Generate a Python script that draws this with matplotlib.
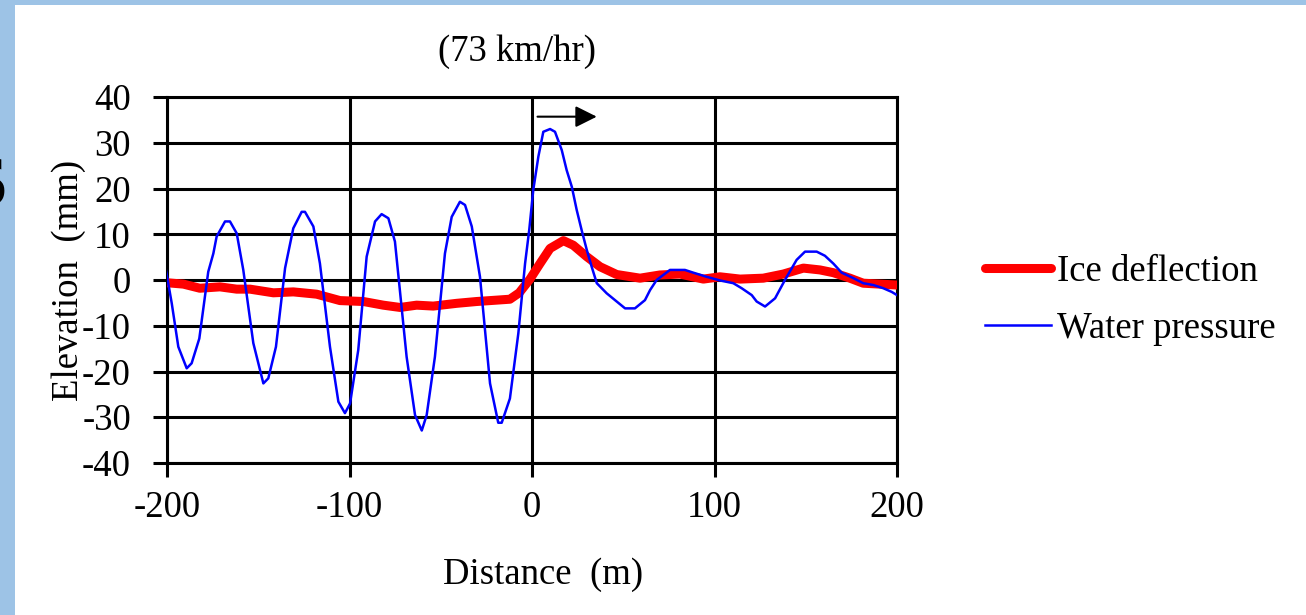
import matplotlib
matplotlib.use("Agg")
import matplotlib.pyplot as plt
from matplotlib.patches import Rectangle

# Water pressure trace (distance in m, elevation in mm)
wp_x = [-200.5, -197.4, -193.8, -189.2, -186.5, -182.3, -177.4, -174.6, -172.8,
        -168.2, -165.5, -161.8, -158.2, -152.7, -147.2, -144.5, -140.3, -135.3,
        -130.8, -126.2, -124.4, -119.8, -116.2, -110.7, -106.1, -102.5, -99.7,
        -95.2, -90.6, -86.0, -82.4, -78.7, -75.1, -68.7, -64.1, -60.4, -57.7,
        -53.2, -47.7, -44.0, -39.5, -36.7, -33.0, -28.5, -23.0, -18.5, -16.6,
        -12.1, -7.5, -3.8, -1.5, 0.7, 3.5, 6.2, 9.9, 12.6, 16.3, 19.0, 21.8,
        24.5, 27.2, 30.0, 32.7, 35.5, 40.9, 46.4, 51.0, 56.4, 61.9, 64.7, 68.3,
        75.6, 83.8, 88.4, 95.7, 103.0, 110.3, 114.9, 120.4, 123.1, 127.7, 133.2,
        138.6, 145.0, 149.6, 156.0, 160.5, 165.1, 169.7, 176.1, 181.5, 187.0,
        192.5, 197.1, 200.0]
wp_y = [2.0, -5.1, -14.6, -19.3, -18.2, -12.8, 1.8, 5.8, 9.5,
        12.8, 12.8, 10.2, 2.2, -13.8, -22.6, -21.5, -14.6, 2.6,
        11.3, 14.9, 14.9, 11.7, 3.6, -14.6, -26.6, -29.1, -27.0,
        -15.3, 5.1, 12.8, 14.4, 13.5, 8.4, -16.8, -29.5, -32.9, -29.5,
        -16.8, 5.8, 13.8, 17.1, 16.4, 11.7, 0.7, -22.6, -31.2, -31.2,
        -25.9, -11.7, 3.6, 11.0, 19.7, 27.0, 32.4, 33.0, 32.4, 28.4, 24.0, 20.4,
        15.3, 10.9, 6.6, 2.9, -0.7, -2.9, -4.7, -6.2, -6.2, -4.4, -2.2, 0.0,
        2.2, 2.2, 1.6, 0.7, -0.1, -0.7, -1.8, -3.3, -4.7, -5.8, -4.0,
        0.0, 4.4, 6.2, 6.2, 5.3, 3.6, 1.6, 0.4, -0.7, -1.1,
        -1.8, -2.6, -3.3]

# Ice deflection trace
ice_x = [-200.0, -191.0, -182.0, -171.0, -161.8, -154.5, -141.7, -130.8, -118.0,
         -105.2, -92.4, -81.5, -72.3, -63.2, -54.1, -41.3, -30.3, -19.3, -12.1,
         -7.0, -1.1, 4.4, 9.9, 17.2, 22.6, 30.0, 37.3, 46.4, 59.2, 70.1, 81.1,
         93.9, 103.0, 114.0, 126.7, 137.7, 148.7, 157.8, 165.1, 174.2, 181.5,
         190.7, 200.0]
ice_y = [-0.6, -0.9, -1.8, -1.5, -2.0, -2.0, -2.8, -2.6, -3.1,
         -4.5, -4.7, -5.5, -6.0, -5.5, -5.7, -5.1, -4.7, -4.4, -4.2,
         -2.8, 0.2, 3.6, 6.9, 8.6, 7.6, 5.1, 2.9, 1.2, 0.4, 1.1, 1.3,
         0.2, 0.7, 0.2, 0.4, 1.3, 2.6, 2.2, 1.6, 0.4, -0.7,
         -0.9, -1.1]

plt.rcParams['font.family'] = ['Liberation Serif', 'DejaVu Serif']
plt.rcParams['axes.unicode_minus'] = False

fig = plt.figure(figsize=(13.06, 6.15), dpi=100)
fig.patch.set_facecolor('white')

# slide background strips
blue_bg = '#9dc3e6'
fig.patches.append(Rectangle((0, 0), 15 / 1306, 1, transform=fig.transFigure,
                             facecolor=blue_bg, edgecolor='none', zorder=0))
fig.patches.append(Rectangle((0, 1 - 5 / 615), 1, 5 / 615, transform=fig.transFigure,
                             facecolor=blue_bg, edgecolor='none', zorder=0))
fig.text(8 / 1306, (615 - 187) / 615, 'S', family='DejaVu Sans', weight='bold',
         fontsize=46, ha='right', va='center', color='black')

ax = fig.add_axes([167 / 1306, (615 - 463) / 615, 730 / 1306, 366 / 615])

ax.plot(ice_x, ice_y, color='#ff0000', lw=6.5, solid_capstyle='round',
        label='Ice deflection', zorder=3)
ax.plot(wp_x, wp_y, color='#0000ff', lw=1.8, label='Water pressure', zorder=4)

# direction of travel
ax.annotate('', xy=(37, 35.7), xytext=(1.5, 35.7),
            arrowprops=dict(arrowstyle='-|>,head_length=1.3,head_width=0.65',
                            color='black', lw=1.5))

fs = 26.5
ax.set_xlim(-200, 200)
ax.set_ylim(-40, 40)
ax.set_xticks([-200, -100, 0, 100, 200])
ax.set_yticks(range(-40, 41, 10))
ax.grid(True, color='black', lw=2.2)
for s in ax.spines.values():
    s.set_linewidth(2.2)
    s.set_color('black')
ax.tick_params(direction='out', length=10, width=2.2, labelsize=fs)
ax.tick_params(axis='x', pad=10)
ax.tick_params(axis='y', pad=16)
ax.set_axisbelow(True)

ax.set_xlabel('Distance  (m)', fontsize=fs, labelpad=23, x=0.515)
ax.set_ylabel('Elevation  (mm)', fontsize=fs, labelpad=-3)
ax.set_title('(73 km/hr)', fontsize=fs, pad=26, x=0.48)

ax.legend(loc='center left', bbox_to_anchor=(1.075, 0.445), frameon=False,
          fontsize=fs, handlelength=1.8, handletextpad=0.15, labelspacing=0.62)

fig.savefig('out.png', dpi=100)
